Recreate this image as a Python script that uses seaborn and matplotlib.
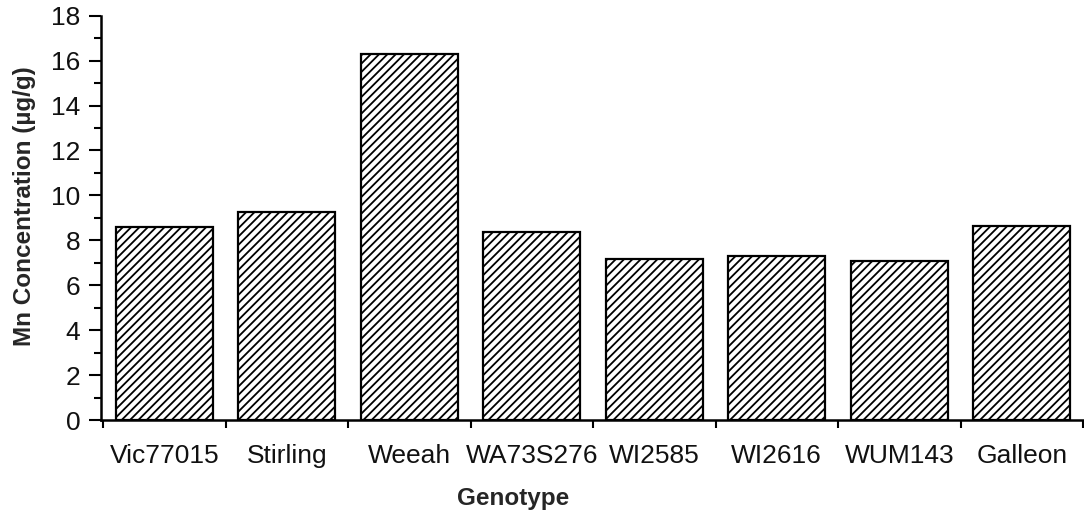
import matplotlib
matplotlib.use("Agg")
import matplotlib.pyplot as plt
import seaborn as sns
import numpy as np
import pandas as pd
from matplotlib.ticker import MultipleLocator, FixedLocator

genotypes = ["Vic77015", "Stirling", "Weeah", "WA73S276", "WI2585", "WI2616", "WUM143", "Galleon"]
mn_conc = [8.6, 9.25, 16.3, 8.35, 7.15, 7.3, 7.1, 8.65]

sns.set_style("ticks")
plt.rcParams['font.family'] = ['Liberation Sans', 'DejaVu Sans']
plt.rcParams['hatch.linewidth'] = 1.3
plt.rcParams['hatch.color'] = 'black'

df = pd.DataFrame({"Genotype": genotypes, "Mn": mn_conc})

fig = plt.figure(figsize=(10.84, 5.17), dpi=100)
ax = fig.add_axes([101/1084, 1 - 420/517, 982/1084, (420 - 15.7)/517])

sns.barplot(data=df, x="Genotype", y="Mn", color="white", saturation=1,
            edgecolor="black", linewidth=1.6, hatch="////", width=0.79, ax=ax)

ax.set_ylim(0, 18)
ax.set_xlim(-0.5 - 2/122.5, 7.5)
ax.yaxis.set_major_locator(MultipleLocator(2))
ax.yaxis.set_minor_locator(MultipleLocator(1))
ax.xaxis.set_minor_locator(FixedLocator(np.arange(-0.5, 8.0, 1.0)))

ax.tick_params(axis='y', which='major', length=9, width=1.5, direction='out',
               labelsize=19, pad=6, color='black', labelcolor='#111111')
ax.tick_params(axis='y', which='minor', length=5, width=1.5, direction='out', color='black')
ax.tick_params(axis='x', which='major', length=0, labelsize=19, pad=17, labelcolor='#111111')
ax.tick_params(axis='x', which='minor', length=6, width=1.5, direction='out', color='black')

for s in ['top', 'right']:
    ax.spines[s].set_visible(False)
for s in ['left', 'bottom']:
    ax.spines[s].set_linewidth(1.8)
    ax.spines[s].set_color('black')

ax.set_xlabel("Genotype", fontsize=17.5, fontweight='bold')
ax.xaxis.set_label_coords(0.42, -0.165)
ax.set_ylabel("Mn Concentration (µg/g)", fontsize=17.5, fontweight='bold')
ax.yaxis.set_label_coords(-0.066, 0.53)

fig.savefig("out.png", dpi=100, facecolor='white')
